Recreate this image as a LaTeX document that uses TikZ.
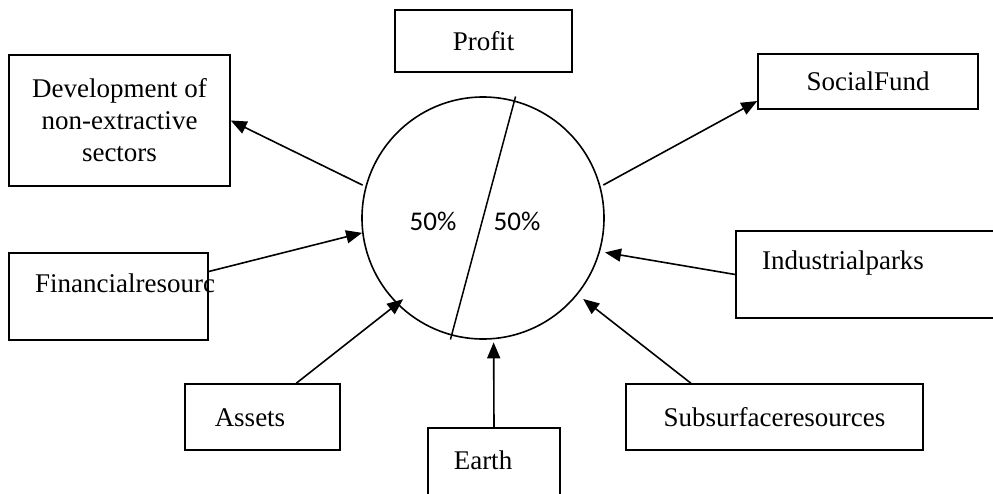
\documentclass[tikz,border=0pt]{standalone}
\usepackage{fontspec}
\setmainfont{Liberation Serif}
\newfontfamily\pctfont{Carlito}
\usetikzlibrary{arrows.meta,positioning}

\begin{document}
\begin{tikzpicture}[x=1pt,y=-1pt,
    box/.style={draw, line width=1.5pt, inner sep=0pt, align=center, font=\fontsize{27}{32}\selectfont},
    lbl/.style={inner sep=0pt, font=\fontsize{27}{32}\selectfont},
    pct/.style={inner sep=0pt, font=\pctfont\fontsize{27}{30}\selectfont},
    arr/.style={line width=1.6pt, -{Triangle[length=16pt,width=13pt]}}]
    \clip (0,0) rectangle (993,493);

    % Profit circle split in two halves
    \node[circle, draw, line width=1.6pt, minimum size=242pt, inner sep=0pt] (hub) at (483,218) {};
    \draw[line width=1.5pt, shorten <=-4pt, shorten >=-4pt] (hub.75) -- (hub.255);
    \node[pct] (lefthalf) at (433,221) {50\%};
    \node[pct] (righthalf) at (517,221) {50\%};

    % Boxes round the circle
    \node[box, minimum width=177pt, minimum height=62pt] (profit) at (483.5,41) {Profit};
    \node[box, minimum width=221pt, minimum height=131pt] (dev) at (119.5,120.5) {Development of\\non-extractive\\sectors};
    \node[box, minimum width=220pt, minimum height=55pt] (social) at (868,81.5) {SocialFund};
    \node[box, minimum width=199pt, minimum height=87pt] (fin) at (108.5,296.5) {};
    \node[lbl] (fintext) at (125,283) {Financialresourc};
    \node[box, minimum width=264pt, minimum height=87pt] (ind) at (868,274.5) {};
    \node[lbl] (indtext) at (843,263) {Industrialparks};
    \node[box, minimum width=297pt, minimum height=66pt] (sub) at (774.5,417) {Subsurfaceresources};
    \node[box, minimum width=132pt, minimum height=82pt] (earth) at (494,469) {};
    \node[lbl] (earthtext) at (483,460) {Earth};
    \node[box, minimum width=155pt, minimum height=66pt] (assets) at (262.5,417) {};
    \node[lbl] (assetstext) at (250,418) {Assets};

    % Flows out of the circle
    \draw[arr, shorten <=3pt] (hub.165) -- (dev.east);
    \draw[arr, shorten <=3pt] (hub.15) -- (social.190);

    % Flows into the circle
    \draw[arr] (fin.14) -- (hub.187);
    \draw[arr, shorten >=5pt] (ind.west) -- (hub.-16);
    \draw[arr, shorten >=7pt] (sub.158) -- (hub.-39);
    \draw[arr, shorten >=3pt] (earth.north) -- (hub.-85);
    \draw[arr, shorten >=-8pt] (assets.45) -- (hub.225);
\end{tikzpicture}
\end{document}
